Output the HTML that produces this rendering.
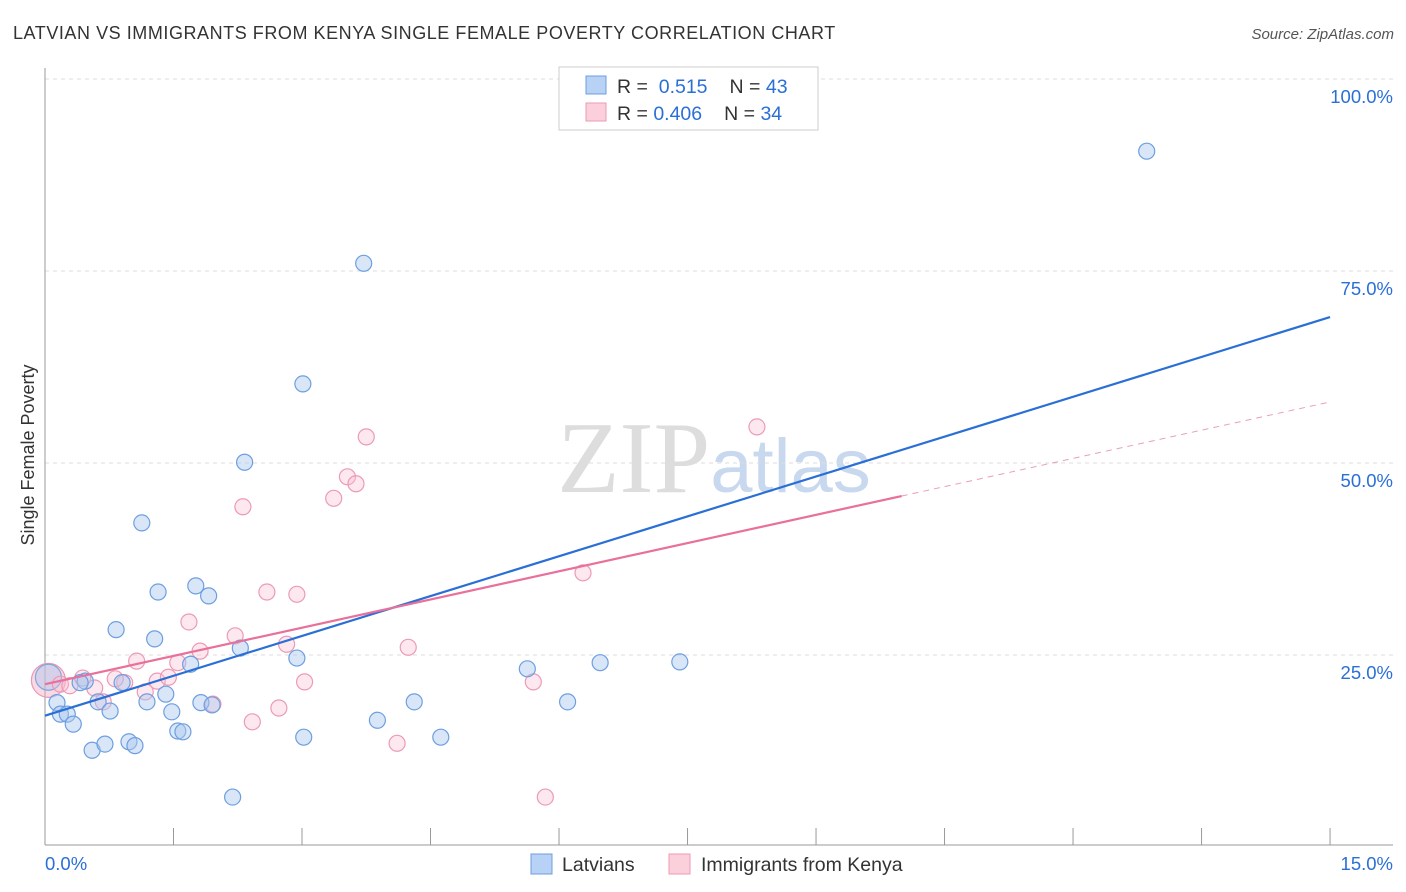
<!DOCTYPE html>
<html><head><meta charset="utf-8"><style>
body{margin:0;background:#fff;font-family:"Liberation Sans",sans-serif;}
svg{display:block}
</style></head><body>
<svg id="chart" width="1406" height="892">
<text x="13" y="39" font-size="18" fill="#333" letter-spacing="0.55">LATVIAN VS IMMIGRANTS FROM KENYA SINGLE FEMALE POVERTY CORRELATION CHART</text>
<text x="1394" y="39" font-size="15" fill="#555" font-style="italic" text-anchor="end">Source: ZipAtlas.com</text>
<text x="714" y="492" font-size="102" fill="#ddd" text-anchor="middle" font-family="Liberation Serif,serif">ZIP<tspan fill="#c8d8ee" font-family="Liberation Sans,sans-serif" font-size="76">atlas</tspan></text>
<text transform="translate(34,455) rotate(-90)" font-size="18" fill="#333" text-anchor="middle">Single Female Poverty</text>
<g id="grid"></g><g id="marks"></g>
<g>
<rect x="559" y="67" width="259" height="63" fill="#fff" stroke="#ccc"/>
<rect x="586" y="76" width="20" height="18" fill="#b8d2f5" stroke="#6d9fe0"/>
<rect x="586" y="103" width="20" height="18" fill="#fbd0dc" stroke="#ee9ab2"/>
<text x="617" y="93" font-size="19.5" fill="#333">R = <tspan fill="#2a6fd6">&#160;0.515</tspan><tspan dx="22">N = </tspan><tspan fill="#2a6fd6">43</tspan></text>
<text x="617" y="120" font-size="19.5" fill="#333">R = <tspan fill="#2a6fd6">0.406</tspan><tspan dx="22">N = </tspan><tspan fill="#2a6fd6">34</tspan></text>
</g>
<g>
<rect x="531" y="854" width="21" height="20" fill="#b8d2f5" stroke="#6d9fe0"/>
<text x="562" y="871" font-size="19.5" fill="#333">Latvians</text>
<rect x="669" y="854" width="21" height="20" fill="#fbd0dc" stroke="#ee9ab2"/>
<text x="701" y="871" font-size="19.5" fill="#333">Immigrants from Kenya</text>
</g>
</svg>
<script>
const blueX=[12.86,3.72,3.01,2.33,1.13,1.32,1.76,1.91,0.83,1.28,2.28,2.94,1.70,5.63,6.48,7.41,0.47,0.41,0.90,1.41,0.62,0.76,0.14,0.18,0.26,0.33,1.19,1.48,1.82,1.95,1.55,1.61,3.02,3.88,4.31,4.62,6.10,0.55,0.70,0.98,1.05,2.19];
const blueY=[90.6,76.0,60.3,50.1,42.2,33.2,34.0,32.7,28.3,27.1,25.9,24.6,23.8,23.2,24.0,24.1,21.6,21.4,21.4,19.9,18.9,17.7,18.8,17.3,17.3,16.0,18.9,17.6,18.8,18.5,15.1,15.0,14.3,16.5,18.9,14.3,18.9,12.6,13.4,13.7,13.2,6.5];
const pinkX=[0.18,0.29,0.44,0.58,0.68,0.93,1.07,1.17,1.31,1.44,1.55,1.68,1.81,2.22,2.31,2.42,2.59,2.73,2.82,2.94,3.03,3.37,3.53,3.63,3.75,4.11,4.24,5.70,5.84,6.28,8.31,1.96,0.82];
const pinkY=[21.2,21.0,22.0,20.7,18.9,21.4,24.2,20.2,21.6,22.1,24.0,29.3,25.5,27.5,44.3,16.3,33.2,18.1,26.4,32.9,21.5,45.4,48.2,47.3,53.4,13.5,26.0,21.5,6.5,35.7,54.7,18.6,21.9];
const bigBlue=[0.04,22.1], bigPink=[0.04,21.7];
const blueTrend=[17.1,3.46], pinkTrend=[21.2,2.45];
const yTicks=[25,50,75,100];
const xTickCount=10;
const NS="http://www.w3.org/2000/svg";
const sx=v=>45+v*85.67, sy=v=>847-v*7.68;
function mk(tag,attrs,parent){const e=document.createElementNS(NS,tag);for(const k in attrs)e.setAttribute(k,attrs[k]);parent.appendChild(e);return e;}
const grid=document.getElementById('grid'), marks=document.getElementById('marks');
yTicks.forEach(t=>{
 const l=mk('line',{x1:45,x2:1393,y1:sy(t),y2:sy(t),stroke:'#ddd','stroke-dasharray':'4,4'},grid);
 
 
 const tx=mk('text',{x:1393,y:sy(t)+24,'font-size':18.5,fill:'#2a6fd6','text-anchor':'end'},grid);
 tx.textContent=t.toFixed(1)+'%';
 
 
});
let ax=mk('line',{x1:45,x2:45,y1:68,y2:845,stroke:'#999'},grid);


ax=mk('line',{x1:45,x2:1393,y1:845,y2:845,stroke:'#999'},grid);


for(let i=0;i<=xTickCount;i++){
 const x=sx(i*1.5);
 const t=mk('line',{x1:x,x2:x,y1:828,y2:845,stroke:'#999'},grid);
 
 
}
[['0.0%',45,'start'],['15.0%',1393,'end']].forEach(a=>{
 const t=mk('text',{x:a[1],y:870,'font-size':18.5,fill:'#2a6fd6','text-anchor':a[2]},grid);t.textContent=a[0];
 
 
});
function dot(x,y,r,fill,stroke,name){
 const c=mk('circle',{cx:sx(x),cy:sy(y),r:r,fill:fill,stroke:stroke,'stroke-width':1.2},marks);
 
 
}
dot(bigPink[0],bigPink[1],17,'rgba(242,170,195,0.45)','#e79ab4','kenya-point');
dot(bigBlue[0],bigBlue[1],13,'rgba(170,200,240,0.45)','#7ea8e0','latvian-point');
pinkX.forEach((x,i)=>dot(x,pinkY[i],8,'rgba(248,190,208,0.35)','#ec9ab5','kenya-point'));
blueX.forEach((x,i)=>dot(x,blueY[i],8,'rgba(170,200,240,0.45)','#6d9fe0','latvian-point'));
let l=mk('line',{x1:sx(0),y1:sy(blueTrend[0]),x2:sx(15),y2:sy(blueTrend[0]+15*blueTrend[1]),stroke:'#2a6fd6','stroke-width':2.2},marks);


l=mk('line',{x1:sx(0),y1:sy(pinkTrend[0]),x2:sx(10),y2:sy(pinkTrend[0]+10*pinkTrend[1]),stroke:'#e8709a','stroke-width':2.2},marks);


l=mk('line',{x1:sx(10),y1:sy(pinkTrend[0]+10*pinkTrend[1]),x2:sx(15),y2:sy(pinkTrend[0]+15*pinkTrend[1]),stroke:'#e8a0b8','stroke-width':1,'stroke-dasharray':'6,5'},marks);


</script>
</body></html>
